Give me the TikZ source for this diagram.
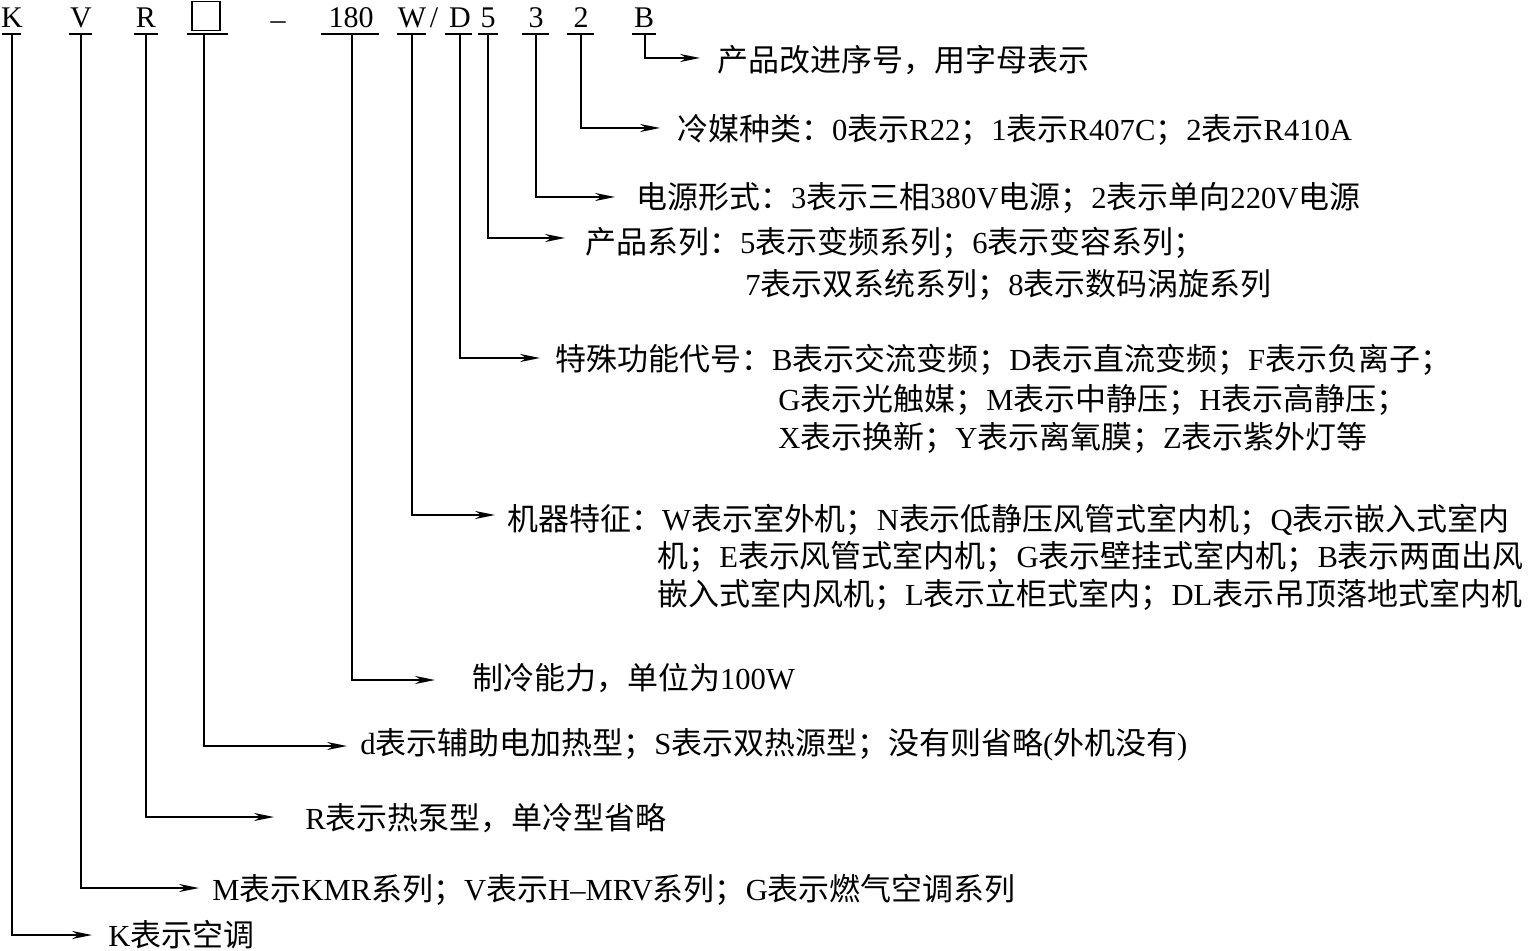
\documentclass[tikz,border=0pt]{standalone}
\usepackage{fontspec}
\setmainfont{Liberation Serif}
\newfontfamily\cjkf[Scale=1.012]{Noto Sans CJK SC}
\usetikzlibrary{arrows.meta}
\XeTeXinterchartokenstate=1
\newXeTeXintercharclass\cjkcls
\newcount\cjkcc
\cjkcc="4E00 \loop\XeTeXcharclass\cjkcc=\cjkcls \ifnum\cjkcc<"9FFF \advance\cjkcc 1 \repeat
\cjkcc="3000 \loop\XeTeXcharclass\cjkcc=\cjkcls \ifnum\cjkcc<"303F \advance\cjkcc 1 \repeat
\cjkcc="FF00 \loop\XeTeXcharclass\cjkcc=\cjkcls \ifnum\cjkcc<"FFEF \advance\cjkcc 1 \repeat
\XeTeXinterchartoks 0 \cjkcls={\cjkf}
\XeTeXinterchartoks 4095 \cjkcls={\cjkf}
\XeTeXinterchartoks \cjkcls 0={\rmfamily}
\XeTeXinterchartoks \cjkcls 4095={\rmfamily}
\begin{document}
\begin{tikzpicture}[x=0.5pt,y=-0.5pt,
  ln/.style={line width=0.9pt},
  arr/.style={ln,-{Stealth[length=10pt,width=4pt]}},
  hdr/.style={anchor=base,inner sep=0pt,font=\fontsize{15}{18}\selectfont},
  txt/.style={anchor=west,inner sep=0pt,font=\fontsize{15.3}{18}\selectfont}]
\useasboundingbox (0,0) rectangle (1530,951);
% header
\node[hdr] (hK) at (12,28) {K};
\node[hdr] (hV) at (81,28) {V};
\node[hdr] (hR) at (146,28) {R};
\node[draw,line width=0.9pt,minimum width=14pt,minimum height=14.5pt,inner sep=0pt] (hbox) at (206,16) {};
\node[hdr] (hdash) at (278,30) {–};
\node[hdr] (h180) at (351,28) {180};
\node[hdr] (hW) at (412,28) {W};
\node[hdr] (hsl) at (434,28) {/};
\node[hdr] (hD) at (460,28) {D};
\node[hdr] (h5) at (488,28) {5};
\node[hdr] (h3) at (536,28) {3};
\node[hdr] (h2) at (581,28) {2};
\node[hdr] (hB) at (644,28) {B};
% underlines
\draw[ln] (2,34) -- (21,34);
\draw[ln] (69,34) -- (92,34);
\draw[ln] (134,34) -- (158,34);
\draw[ln] (187,34) -- (228,34);
\draw[ln] (321,34) -- (379,34);
\draw[ln] (397,34) -- (426,34);
\draw[ln] (445,34) -- (472,34);
\draw[ln] (478,34) -- (498,34);
\draw[ln] (522,34) -- (549,34);
\draw[ln] (567,34) -- (594,34);
\draw[ln] (632,34) -- (656,34);
% bar feet
\coordinate (bK) at (12,34);
\coordinate (bV) at (81,34);
\coordinate (bR) at (146,34);
\coordinate (bbox) at (204,34);
\coordinate (b180) at (352,34);
\coordinate (bW) at (412,34);
\coordinate (bD) at (460,34);
\coordinate (b5) at (488,34);
\coordinate (b3) at (536,34);
\coordinate (b2) at (581,34);
\coordinate (bB) at (645,34);
% arrow tips
\coordinate (aB) at (700,58);
\coordinate (a2) at (660,128);
\coordinate (a3) at (615,197);
\coordinate (a5) at (565,238);
\coordinate (aD) at (540,358);
\coordinate (aW) at (495,515);
\coordinate (a180) at (435,680);
\coordinate (abox) at (347,746);
\coordinate (aR) at (274,817);
\coordinate (aV) at (199,888);
\coordinate (aK) at (92,935);
% texts
\node[txt] (tB) at (717,60) {产品改进序号，用字母表示};
\node[txt] (t2) at (677,130) {冷媒种类：0表示R22；1表示R407C；2表示R410A};
\node[txt] (t3) at (636,198) {电源形式：3表示三相380V电源；2表示单向220V电源};
\node[txt] (t5a) at (585,243) {产品系列：5表示变频系列；6表示变容系列；};
\node[txt] (t5b) at (745,285) {7表示双系统系列；8表示数码涡旋系列};
\node[txt] (tDa) at (555,360) {特殊功能代号：B表示交流变频；D表示直流变频；F表示负离子；};
\node[txt] (tDb) at (778,400) {G表示光触媒；M表示中静压；H表示高静压；};
\node[txt] (tDc) at (778,438) {X表示换新；Y表示离氧膜；Z表示紫外灯等};
\node[txt] (tWa) at (507,520) {机器特征：W表示室外机；N表示低静压风管式室内机；Q表示嵌入式室内};
\node[txt] (tWb) at (657,557) {机；E表示风管式室内机；G表示壁挂式室内机；B表示两面出风};
\node[txt] (tWc) at (657,595) {嵌入式室内风机；L表示立柜式室内；DL表示吊顶落地式室内机};
\node[txt] (t180) at (472,678) {制冷能力，单位为100W};
\node[txt] (tbox) at (360,745) {d表示辅助电加热型；S表示双热源型；没有则省略(外机没有)};
\node[txt] (tR) at (305,818) {R表示热泵型，单冷型省略};
\node[txt] (tV) at (212,890) {M表示KMR系列；V表示H–MRV系列；G表示燃气空调系列};
\node[txt] (tK) at (108,935) {K表示空调};
% connectors
\draw[arr] (bB) |- (aB);
\draw[arr] (b2) |- (a2);
\draw[arr] (b3) |- (a3);
\draw[arr] (b5) |- (a5);
\draw[arr] (bD) |- (aD);
\draw[arr] (bW) |- (aW);
\draw[arr] (b180) |- (a180);
\draw[arr] (bbox) |- (abox);
\draw[arr] (bR) |- (aR);
\draw[arr] (bV) |- (aV);
\draw[arr] (bK) |- (aK);
\end{tikzpicture}
\end{document}
